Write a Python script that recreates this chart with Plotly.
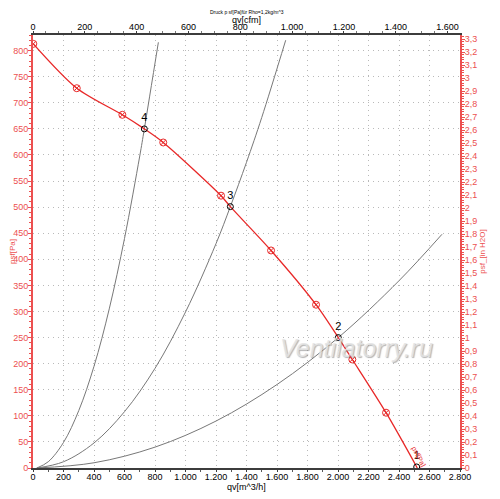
import plotly.graph_objects as go

# fan curve, psf[Pa] over qv[m^3/h]
fan_q = [2, 287, 586, 730, 854, 1233, 1294, 1561, 1856, 2002, 2094, 2315, 2520]
fan_p = [813, 728, 677, 650, 624, 522, 501, 417, 313, 250, 208, 106, 0]

# measured points on the fan curve (red circles)
meas_q = [2, 287, 586, 854, 1233, 1561, 1856, 2094, 2315]
meas_p = [813, 728, 677, 624, 522, 417, 313, 208, 106]

# operating points 1..4
op_names = ["1", "2", "3", "4"]
op_q = [2516, 2002, 1294, 730]
op_p = [2, 250, 501, 650]

# system curves (grey)
sys_a_q = [25, 100, 200, 300, 400, 500, 600, 700, 730, 822]
sys_a_p = [0, 12, 49, 110, 195, 305, 440, 598, 650, 816]
sys_b_q = [25, 200, 400, 600, 800, 1000, 1200, 1294, 1400, 1500, 1657]
sys_b_p = [0, 12, 48, 108, 191, 299, 430, 501, 586, 672, 820]
sys_c_q = [25, 400, 800, 1200, 1600, 2002, 2400, 2682]
sys_c_p = [0, 10, 40, 90, 160, 250, 359, 448]

PA_PER_INH2O = 249.09
M3H_PER_CFM = 1.699
Q_MAX = 2800
P_MAX = 830

RED = "rgb(232,40,40)"
LRED = "rgb(236,80,80)"
GREY = "rgb(120,120,120)"
FONT = "Liberation Sans"

fig = go.Figure()

for q, p in [(sys_a_q, sys_a_p), (sys_b_q, sys_b_p), (sys_c_q, sys_c_p)]:
    fig.add_trace(go.Scatter(x=q, y=p, mode="lines", line=dict(color=GREY, width=1, shape="spline"),
                             hoverinfo="skip", showlegend=False))

fig.add_trace(go.Scatter(x=fan_q, y=fan_p, mode="lines", line=dict(color=RED, width=1.3, shape="spline", smoothing=0.8),
                         showlegend=False))
fig.add_trace(go.Scatter(x=meas_q, y=meas_p, mode="markers",
                         marker=dict(symbol="circle-x-open", size=7, color=RED, line=dict(width=1)),
                         showlegend=False))
fig.add_trace(go.Scatter(x=op_q, y=op_p, mode="markers+text", text=op_names, textposition="top center",
                         textfont=dict(family=FONT, size=11, color="black"),
                         marker=dict(symbol="circle-open", size=6, color="black", line=dict(width=1)),
                         showlegend=False))

# dummy traces so the secondary axes get drawn
fig.add_trace(go.Scatter(x=[0], y=[0], xaxis="x2", yaxis="y", mode="markers", opacity=0,
                         hoverinfo="skip", showlegend=False))
fig.add_trace(go.Scatter(x=[0], y=[0], xaxis="x", yaxis="y2", mode="markers", opacity=0,
                         hoverinfo="skip", showlegend=False))

grid = dict(showgrid=True, gridcolor="rgb(185,185,185)", griddash="1px,4px", gridwidth=1, zeroline=False)

# page body has an 8px margin, so the figure is a bit smaller than the window
fig.update_layout(
    template="none",
    width=492, height=491,
    margin=dict(l=25, r=40, t=27, b=31, pad=0),
    paper_bgcolor="white", plot_bgcolor="white",
    separators=",.",
    font=dict(family=FONT, size=9, color="black"),
    xaxis=dict(range=[0, Q_MAX], dtick=200, tick0=0, separatethousands=True, automargin=False,
               showline=True, linecolor="rgb(60,60,60)", linewidth=2, mirror=False,
               ticks="outside", ticklen=2, tickcolor="rgb(60,60,60)", ticklabelstandoff=-3,
               minor=dict(dtick=100, ticks="outside", ticklen=2, tickcolor="rgb(90,90,90)", showgrid=False),
               tickfont=dict(size=9), **grid),
    xaxis2=dict(range=[0, Q_MAX / M3H_PER_CFM], dtick=200, tick0=0, separatethousands=True,
                overlaying="x", side="top", anchor="y", automargin=False, showgrid=False, zeroline=False,
                showline=True, linecolor="rgb(60,60,60)", linewidth=2,
                ticks="outside", ticklen=2, tickcolor="rgb(60,60,60)", ticklabelstandoff=-3,
                minor=dict(dtick=50, ticks="outside", ticklen=2, tickcolor="rgb(120,120,120)"),
                tickfont=dict(size=9)),
    yaxis=dict(range=[0, P_MAX], dtick=50, tick0=0, automargin=False,
               showline=True, linecolor=LRED, linewidth=2,
               ticks="outside", ticklen=3, tickcolor=LRED, ticklabelstandoff=-2,
               minor=dict(dtick=10, ticks="outside", ticklen=2, tickcolor=LRED, showgrid=False),
               title=dict(text="psf[Pa]", font=dict(size=8, color=LRED), standoff=2),
               tickfont=dict(size=9, color=LRED), **grid),
    yaxis2=dict(range=[0, P_MAX / PA_PER_INH2O], dtick=0.1, tick0=0, overlaying="y", side="right",
                anchor="x", automargin=False, showgrid=False, zeroline=False,
                showline=True, linecolor=LRED, linewidth=2,
                ticks="outside", ticklen=3, tickcolor=LRED, ticklabelstandoff=-2,
                minor=dict(dtick=0.02, ticks="outside", ticklen=2, tickcolor=LRED),
                title=dict(text="psf_[in H2O]", font=dict(size=8, color=LRED), standoff=3),
                tickfont=dict(size=9, color=LRED)),
)

# chart title and the two flow-axis titles
fig.add_annotation(x=0.5, y=1, xref="paper", yref="paper", yshift=23, xanchor="center", yanchor="middle",
                   text="Druck p sf[Pa]für Rho=1,2kg/m^3", showarrow=False, font=dict(size=5))
fig.add_annotation(x=0.5, y=1, xref="paper", yref="paper", yshift=15, xanchor="center", yanchor="middle",
                   text="qv[cfm]", showarrow=False, font=dict(size=9))
fig.add_annotation(x=0.5, y=0, xref="paper", yref="paper", yshift=-19, xanchor="center", yanchor="middle",
                   text="qv[m^3/h]", showarrow=False, font=dict(size=9))

fig.add_annotation(x=2530, y=22, text="psf[Pa]", textangle=62, showarrow=False,
                   font=dict(family=FONT, size=7, color=RED))

fig.add_annotation(x=0.758, y=0.276, xref="paper", yref="paper", xanchor="center", yanchor="middle",
                   text="Ventilatorry.ru", showarrow=False,
                   font=dict(family=FONT, size=25, color="rgba(228,228,228,0.85)", style="italic",
                             shadow="1px 1px 1px rgba(130,130,130,0.7)"))

fig.write_html("out.html")
